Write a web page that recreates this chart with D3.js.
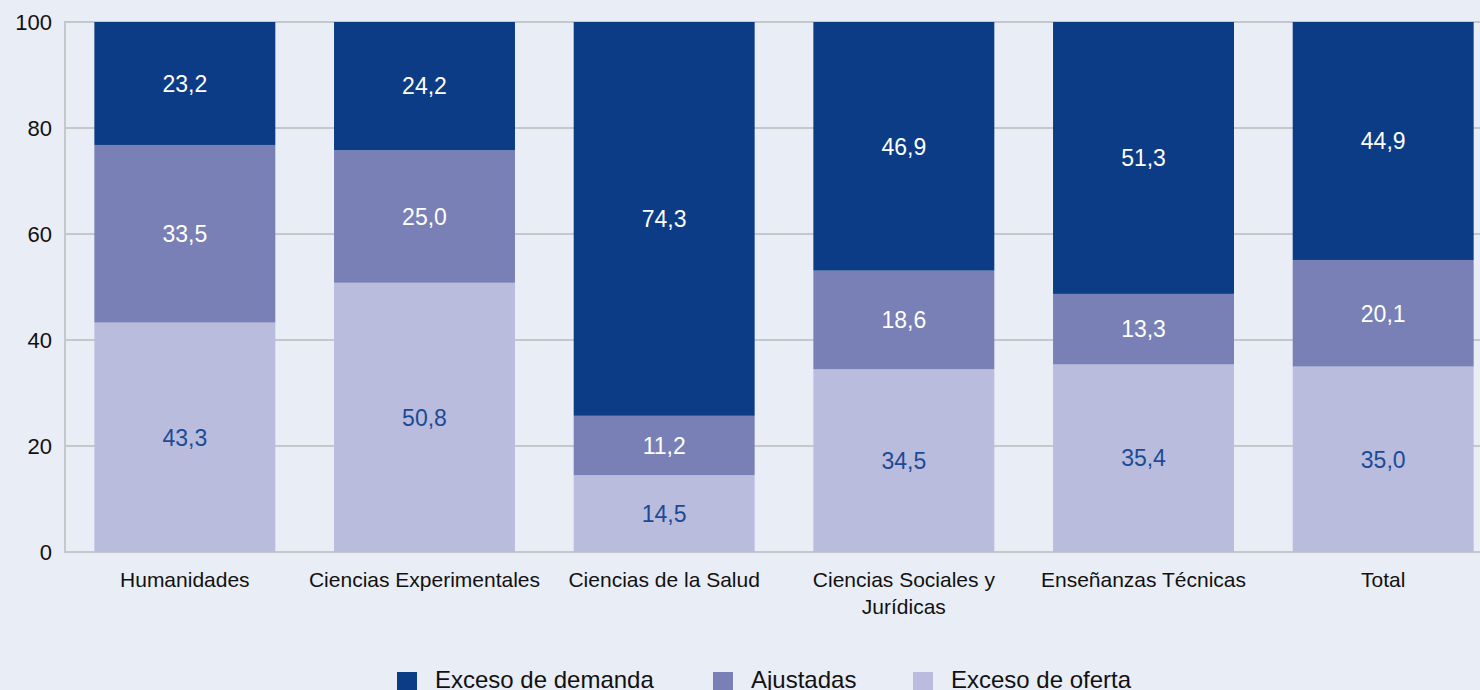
<!DOCTYPE html>
<html>
<head>
<meta charset="utf-8">
<script src="https://cdn.jsdelivr.net/npm/d3@7"></script>
<style>
	html, body { margin: 0; padding: 0; background: #e9edf5; }
	svg { display: block; font-family: Arial, "Liberation Sans", sans-serif; }
</style>
</head>
<body>
<svg id="chart" width="1480" height="690"></svg>
<script>
// data
var categories = [["Humanidades"], ["Ciencias Experimentales"], ["Ciencias de la Salud"], ["Ciencias Sociales y", "Jurídicas"], ["Enseñanzas Técnicas"], ["Total"]];
var excesoOferta = [43.3, 50.8, 14.5, 34.5, 35.4, 35.0];
var ajustadas = [33.5, 25.0, 11.2, 18.6, 13.3, 20.1];
var excesoDemanda = [23.2, 24.2, 74.3, 46.9, 51.3, 44.9];
var yTicks = [0, 20, 40, 60, 80, 100];
var seriesNames = ["Exceso de demanda", "Ajustadas", "Exceso de oferta"];

(function() {
	var COLORS = { demanda: "#0b3c85", ajustadas: "#7980b6", oferta: "#b9bcdd" };
	var GRID = "#c5c7ca";

	var svg = d3.select("#chart");
	var plotLeft = 65, plotTop = 22, plotBottom = 552;

	var x = d3.scaleBand()
		.domain(d3.range(categories.length))
		.range([plotLeft, plotLeft + 6 * 239.67])
		.paddingInner(0.245)
		.paddingOuter(0.1225);

	var y = d3.scaleLinear().domain([0, 100]).range([plotBottom, plotTop]);

	/*
	Gridlines and axes
	*/
	svg.append("g").selectAll("line").data(yTicks).enter().append("line")
		.attr("x1", plotLeft).attr("x2", 1480)
		.attr("y1", function(d) { return y(d); }).attr("y2", function(d) { return y(d); })
		.attr("stroke", GRID).attr("stroke-width", 2);

	svg.append("line").attr("x1", plotLeft).attr("x2", plotLeft).attr("y1", plotTop - 1).attr("y2", plotBottom + 1)
		.attr("stroke", GRID).attr("stroke-width", 2);

	svg.append("g").selectAll("text").data(yTicks).enter().append("text")
		.attr("x", 52).attr("y", function(d) { return y(d); }).attr("dy", "0.36em")
		.attr("text-anchor", "end").attr("font-size", 22).attr("fill", "#111")
		.text(function(d) { return d; });

	/*
	Stacked bars
	*/
	var layers = [
		{ key: "oferta", values: excesoOferta, label: "#1c4a95" },
		{ key: "ajustadas", values: ajustadas, label: "#ffffff" },
		{ key: "demanda", values: excesoDemanda, label: "#ffffff" }
	];
	var base = categories.map(function() { return 0; });
	var fmt = function(v) { return v.toFixed(1).replace(".", ","); };

	layers.forEach(function(layer) {
		var g = svg.append("g");
		layer.values.forEach(function(v, i) {
			var y0 = base[i], y1 = base[i] + v;
			g.append("rect")
				.attr("x", x(i)).attr("width", x.bandwidth())
				.attr("y", y(y1)).attr("height", y(y0) - y(y1))
				.attr("fill", COLORS[layer.key]);
			g.append("text")
				.attr("x", x(i) + x.bandwidth() / 2).attr("y", (y(y0) + y(y1)) / 2).attr("dy", "0.36em")
				.attr("text-anchor", "middle").attr("font-size", 23).attr("fill", layer.label)
				.text(fmt(v));
			base[i] = y1;
		});
	});

	/*
	Category labels
	*/
	categories.forEach(function(lines, i) {
		var cx = x(i) + x.bandwidth() / 2;
		var t = svg.append("text")
			.attr("x", cx).attr("y", 587)
			.attr("text-anchor", "middle").attr("font-size", 21).attr("fill", "#111");
		lines.forEach(function(line, j) {
			t.append("tspan").attr("x", cx).attr("dy", j === 0 ? 0 : 27).text(line);
		});
	});

	/*
	Legend
	*/
	var legendX = [397, 713, 913];
	var legendColors = [COLORS.demanda, COLORS.ajustadas, COLORS.oferta];
	seriesNames.forEach(function(name, i) {
		svg.append("rect").attr("x", legendX[i]).attr("y", 672).attr("width", 20).attr("height", 20)
			.attr("fill", legendColors[i]);
		svg.append("text").attr("x", legendX[i] + 38).attr("y", 688)
			.attr("font-size", 24).attr("fill", "#111").text(name);
	});
})();
</script>
</body>
</html>
